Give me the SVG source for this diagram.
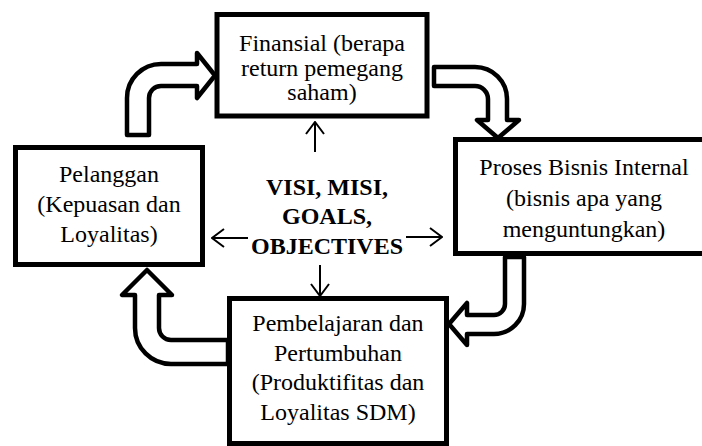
<svg xmlns="http://www.w3.org/2000/svg" width="702" height="446" viewBox="0 0 702 446">
<style>
.box{fill:#fff;stroke:#000;stroke-width:5}
.t{font-family:"Liberation Serif","Times New Roman",serif;font-size:24px;fill:#000;text-anchor:middle}
.b{font-weight:bold}
.blk{fill:#fff;stroke:#000;stroke-width:4.5;stroke-linejoin:round}
.thin{fill:none;stroke:#000;stroke-width:2}
</style>
<defs>
<marker id="ah" viewBox="0 0 14 20" refX="13" refY="10" markerWidth="14" markerHeight="20" markerUnits="userSpaceOnUse" orient="auto">
<path d="M1,1 L13,10 L1,19" fill="none" stroke="#000" stroke-width="2"/>
</marker>
</defs>
<rect width="702" height="446" fill="#fff"/>
<g id="connectors">
<path class="blk" d="M127,135 V98 A34 34 0 0 1 161 64 H197 V53 L215 75.5 L197 98 V86 H161 A12 12 0 0 0 149 98 V135 Z"/>
<path class="blk" d="M434,67 H475 A32 32 0 0 1 507 99 V120 H519 L498 138 L477 120 H488 V99 A13 13 0 0 0 475 86 H434 Z"/>
<path class="blk" d="M505,257 H524 V304 A30 30 0 0 1 494 334 H467 V345 L449 324 L467 303 V315 H494 A11 11 0 0 0 505 304 Z"/>
<path class="blk" d="M228,340 H171 A12 12 0 0 1 159 328 V295 H172 L147 270 L122 295 H135 V328 A36 36 0 0 0 171 364 H228 Z"/>
<line class="thin" x1="315" y1="152" x2="315" y2="122" marker-end="url(#ah)"/>
<line class="thin" x1="248" y1="238" x2="212" y2="238" marker-end="url(#ah)"/>
<line class="thin" x1="406" y1="237" x2="442" y2="237" marker-end="url(#ah)"/>
<line class="thin" x1="320" y1="265" x2="320" y2="296" marker-end="url(#ah)"/>
</g>
<g id="finansial">
<rect class="box" x="217" y="14.5" width="210" height="101.5"/>
<text class="t" x="322" y="51">Finansial (berapa</text>
<text class="t" x="322" y="76">return pemegang</text>
<text class="t" x="322" y="100">saham)</text>
</g>
<g id="proses">
<rect class="box" x="455.5" y="139.5" width="257" height="114"/>
<text class="t" x="584" y="175">Proses Bisnis Internal</text>
<text class="t" x="584" y="206">(bisnis apa yang</text>
<text class="t" x="584" y="237">menguntungkan)</text>
</g>
<g id="pelanggan">
<rect class="box" x="15.5" y="147.5" width="187" height="117"/>
<text class="t" x="109" y="182">Pelanggan</text>
<text class="t" x="109" y="212">(Kepuasan dan</text>
<text class="t" x="109" y="242">Loyalitas)</text>
</g>
<g id="pembelajaran">
<rect class="box" x="229.5" y="298.5" width="217" height="145"/>
<text class="t" x="338" y="331">Pembelajaran dan</text>
<text class="t" x="338" y="361">Pertumbuhan</text>
<text class="t" x="338" y="390">(Produktifitas dan</text>
<text class="t" x="338" y="420">Loyalitas SDM)</text>
</g>
<g id="visi">
<text class="t b" x="327" y="195">VISI, MISI,</text>
<text class="t b" x="327" y="224">GOALS,</text>
<text class="t b" x="327" y="254">OBJECTIVES</text>
</g>
</svg>
